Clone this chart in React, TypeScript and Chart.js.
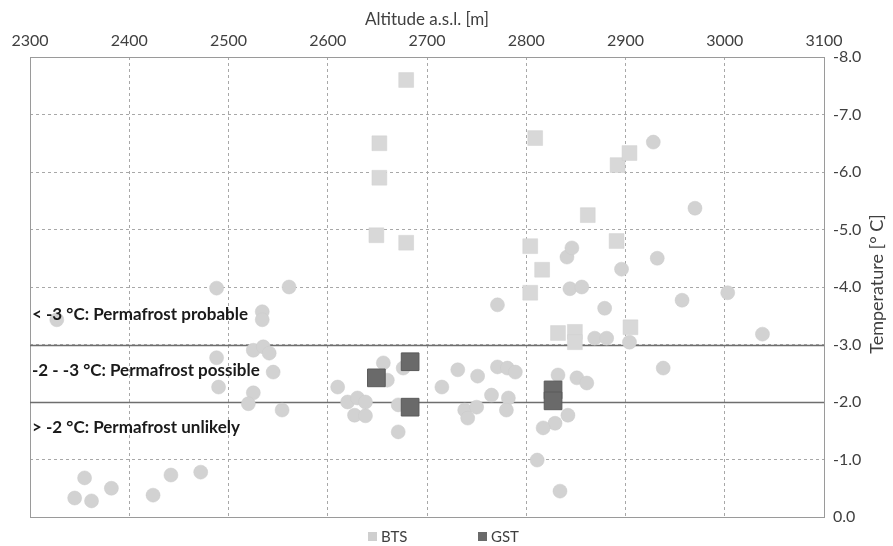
import React, { useEffect, useRef } from "react";
import { Chart, registerables } from "chart.js";

Chart.register(...registerables);

// BTS (round markers)
const btsAltitude = [
  2345, 2362, 2355, 2382, 2424, 2442, 2472, 2327, 2488, 2561, 2534, 2534, 2488, 2490,
  2525, 2535, 2541, 2545, 2525, 2520, 2554, 2610, 2620, 2630, 2638, 2627, 2638, 2656,
  2660, 2671, 2671, 2676, 2715, 2731, 2751, 2771, 2781, 2789, 2765, 2782, 2780, 2738,
  2741, 2750, 2771, 2832, 2851, 2861, 2842, 2829, 2817, 2811, 2834, 2928, 2970, 2841,
  2846, 2932, 2896, 2844, 2856, 2879, 2904, 2869, 2881, 2957, 3003, 3038, 2938,
];
const btsTemperature = [
  -0.33, -0.28, -0.68, -0.5, -0.38, -0.73, -0.78, -3.43, -3.98, -4.0, -3.57, -3.43, -2.77, -2.26,
  -2.9, -2.96, -2.85, -2.52, -2.16, -1.97, -1.86, -2.26, -2.0, -2.07, -2.0, -1.77, -1.76, -2.68,
  -2.38, -1.95, -1.48, -2.59, -2.26, -2.56, -2.45, -2.61, -2.59, -2.52, -2.12, -2.07, -1.86, -1.86,
  -1.72, -1.91, -3.69, -2.47, -2.42, -2.33, -1.77, -1.63, -1.55, -0.99, -0.45, -6.52, -5.37, -4.52,
  -4.68, -4.5, -4.31, -3.97, -4.0, -3.63, -3.04, -3.11, -3.11, -3.77, -3.9, -3.18, -2.59,
];

// BTS (square markers)
const btsSquareAltitude = [
  2679, 2652, 2652, 2649, 2679, 2809, 2892, 2862, 2804, 2816, 2891, 2804, 2832, 2849, 2849, 2905, 2904,
];
const btsSquareTemperature = [
  -7.6, -6.5, -5.9, -4.9, -4.77, -6.59, -6.12, -5.25, -4.71, -4.3, -4.8, -3.9, -3.2, -3.22, -3.04, -3.3, -6.33,
];

// GST
const gstAltitude = [2649, 2683, 2683, 2827, 2827];
const gstTemperature = [-2.42, -2.7, -1.91, -2.21, -2.02];

// Axis ticks
const altitudeTicks = [2300, 2400, 2500, 2600, 2700, 2800, 2900, 3000, 3100];
const temperatureTicks = [-8, -7, -6, -5, -4, -3, -2, -1, 0];

// Permafrost thresholds and zone labels
const thresholds = [-3, -2];
const zoneLabels = [
  "< -3 °C: Permafrost probable",
  "-2 - -3 °C: Permafrost possible",
  "> -2 °C: Permafrost unlikely",
];
const zoneLabelValues = [-3.53, -2.54, -1.55];

const legendItems = ["BTS", "GST"];

const FONT = "Lato, 'Open Sans', sans-serif";

const toPoints = (xs: number[], ys: number[]) => xs.map((x, i) => ({ x, y: ys[i] }));

export default function App() {
  const ref = useRef<HTMLCanvasElement | null>(null);

  useEffect(() => {
    if (!ref.current) return;

    const decorPlugin = {
      id: "decor",
      beforeDatasetsDraw(chart: any) {
        const { ctx, chartArea } = chart;
        const ys = chart.scales.y;
        ctx.save();
        ctx.strokeStyle = "#9a9a9a";
        ctx.lineWidth = 1;
        ctx.setLineDash([]);
        ctx.strokeRect(chartArea.left + 0.5, chartArea.top + 0.5, chartArea.right - chartArea.left, chartArea.bottom - chartArea.top);
        ctx.strokeStyle = "#6e6e6e";
        ctx.lineWidth = 1.5;
        thresholds.forEach((t) => {
          const y = Math.round(ys.getPixelForValue(t)) + 0.5;
          ctx.beginPath();
          ctx.moveTo(chartArea.left, y);
          ctx.lineTo(chartArea.right, y);
          ctx.stroke();
        });
        ctx.restore();
      },
      afterDatasetsDraw(chart: any) {
        const { ctx, chartArea } = chart;
        const ys = chart.scales.y;
        ctx.save();
        ctx.fillStyle = "#1a1a1a";
        ctx.font = `bold 17px ${FONT}`;
        ctx.textBaseline = "middle";
        ctx.textAlign = "left";
        zoneLabels.forEach((label, i) => {
          ctx.fillText(label, chartArea.left + 2, ys.getPixelForValue(zoneLabelValues[i]));
        });
        ctx.fillStyle = "#404040";
        ctx.font = `18px ${FONT}`;
        ctx.textAlign = "center";
        ctx.translate(877, (chartArea.top + chartArea.bottom) / 2 - 3);
        ctx.rotate(-Math.PI / 2);
        ctx.fillText("Temperature [° C]", 0, 0);
        ctx.restore();
        ctx.save();
        ctx.font = `15px ${FONT}`;
        ctx.textBaseline = "middle";
        ctx.textAlign = "left";
        const colors = ["#cfcfcf", "#6a6a6a"];
        const boxX = [368, 478];
        legendItems.forEach((label, i) => {
          ctx.fillStyle = colors[i];
          ctx.fillRect(boxX[i], 532, 9, 9);
          ctx.fillStyle = "#404040";
          ctx.fillText(label, boxX[i] + 13, 537);
        });
        ctx.restore();
      },
    };

    const chart = new Chart(ref.current, {
      type: "scatter",
      data: {
        datasets: [
          {
            label: "GST",
            data: toPoints(gstAltitude, gstTemperature),
            pointStyle: "rect",
            pointRadius: 12.5,
            pointHoverRadius: 12.5,
            backgroundColor: "#6a6a6a",
            borderColor: "#5a5a5a",
            borderWidth: 1,
          },
          {
            label: "BTS",
            data: toPoints(btsAltitude, btsTemperature),
            pointStyle: "circle",
            pointRadius: 7,
            pointHoverRadius: 7,
            backgroundColor: "#d2d2d2",
            borderColor: "#cacaca",
            borderWidth: 0.5,
          },
          {
            label: "BTS ",
            data: toPoints(btsSquareAltitude, btsSquareTemperature),
            pointStyle: "rect",
            pointRadius: 10.5,
            pointHoverRadius: 10.5,
            backgroundColor: "#d8d8d8",
            borderColor: "#d0d0d0",
            borderWidth: 0.5,
          },
        ],
      },
      plugins: [decorPlugin],
      options: {
        animation: false,
        responsive: true,
        maintainAspectRatio: false,
        layout: { padding: { left: 30, bottom: 29, top: 0, right: 0 } },
        plugins: {
          legend: { display: false },
          tooltip: { enabled: false },
        },
        scales: {
          x: {
            type: "linear",
            position: "top",
            min: 2300,
            max: 3100,
            afterBuildTicks: (scale: any) => {
              scale.ticks = altitudeTicks.map((v) => ({ value: v }));
            },
            afterFit: (scale: any) => {
              scale.height = 57;
            },
            ticks: {
              padding: 7,
              color: "#404040",
              font: { family: FONT, size: 16 },
              maxRotation: 0,
              callback: (v: any) => String(v),
            },
            grid: { color: "#a8a8a8", lineWidth: 1, drawTicks: false },
            border: { display: false, dash: [3, 3] },
            title: {
              display: true,
              text: "Altitude a.s.l. [m]",
              color: "#404040",
              font: { family: FONT, size: 17 },
              padding: { top: 9, bottom: 0 },
            },
          },
          y: {
            type: "linear",
            position: "right",
            min: -8,
            max: 0,
            reverse: true,
            afterBuildTicks: (scale: any) => {
              scale.ticks = temperatureTicks.map((v) => ({ value: v }));
            },
            afterFit: (scale: any) => {
              scale.width = 69;
            },
            ticks: {
              padding: 9,
              color: "#404040",
              font: { family: FONT, size: 16 },
              callback: (v: any) => Number(v).toFixed(1),
            },
            grid: { color: "#a8a8a8", lineWidth: 1, drawTicks: false },
            border: { display: false, dash: [3, 3] },
          },
        },
      },
    });

    return () => chart.destroy();
  }, []);

  return (
    <div style={{ position: "fixed", left: 0, top: 0, width: 893, height: 546, background: "#ffffff" }}>
      <canvas ref={ref} />
    </div>
  );
}
